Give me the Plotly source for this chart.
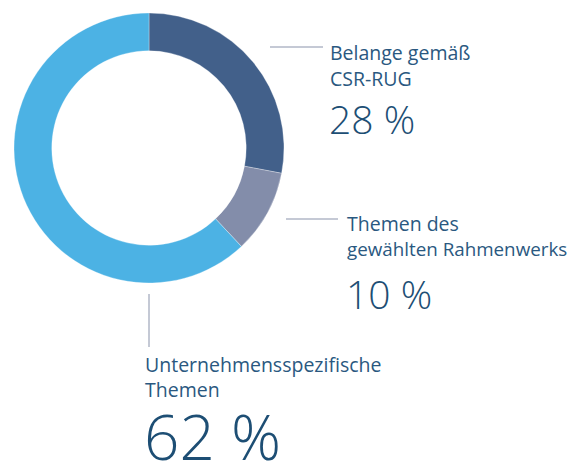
import plotly.graph_objects as go

OFF = 8  # browser default body margin
W, H = 578 - OFF, 461 - OFF

categories = ["Belange gemäß CSR-RUG", "Themen des gewählten Rahmenwerks", "Unternehmensspezifische Themen"]
values = [28, 10, 62]
label_lines = [["Belange gemäß", "CSR-RUG"], ["Themen des", "gewählten Rahmenwerks"], ["Unternehmensspezifische", "Themen"]]
pct_labels = ["28 %", "10 %", "62 %"]
colors = ["#42608a", "#838daa", "#4cb2e4"]

TXT = "#1d4e74"
LBL = "#2a5880"
FONT = "Open Sans"

def px(x):
    return (x - OFF) / W

def py(y):
    return 1 - (y - OFF) / H

fig = go.Figure()
cx, cy, r = 149, 148, 135
fig.add_trace(go.Pie(
    labels=categories, values=values, sort=False, direction="clockwise", rotation=0,
    hole=0.72, marker=dict(colors=colors, line=dict(color="rgba(255,255,255,0.6)", width=0.5)),
    textinfo="none", hoverinfo="label+percent", showlegend=False,
    domain=dict(x=[px(cx - r), px(cx + r)], y=[py(cy + r), py(cy - r)]),
))

ann = []
shapes = []
lc = dict(color="#8a93ab", width=1)
shapes.append(dict(type="line", xref="paper", yref="paper", x0=px(270), x1=px(323), y0=py(47), y1=py(47), line=lc))
shapes.append(dict(type="line", xref="paper", yref="paper", x0=px(286), x1=px(338), y0=py(219), y1=py(219), line=lc))
shapes.append(dict(type="line", xref="paper", yref="paper", x0=px(149), x1=px(149), y0=py(294), y1=py(347), line=lc))

def text(x, baseline, s, size, color, weight=400):
    mid = baseline - 0.36 * size
    ann.append(dict(x=px(x), y=py(mid), xref="paper", yref="paper", xanchor="left", yanchor="middle",
                    text=s, showarrow=False, font=dict(family=FONT, size=size, color=color, weight=weight),
                    borderpad=0, xshift=-2))

blocks = [(331, 60, 86, 133, 39), (348, 231, 256, 308, 39), (146, 372, 397, 458, 62)]
for (x, b1, b2, b3, ps), lines, pl in zip(blocks, label_lines, pct_labels):
    text(x, b1, lines[0], 19.5, LBL)
    text(x, b2, lines[1], 18.8 if len(lines[1]) > 20 else 19.5, LBL)
    text(x - 1, b3, pl, ps, TXT, 300)

fig.update_layout(width=W, height=H, margin=dict(l=0, r=0, t=0, b=0), paper_bgcolor="white",
                  plot_bgcolor="white", annotations=ann, shapes=shapes)
fig.write_html("out.html")
